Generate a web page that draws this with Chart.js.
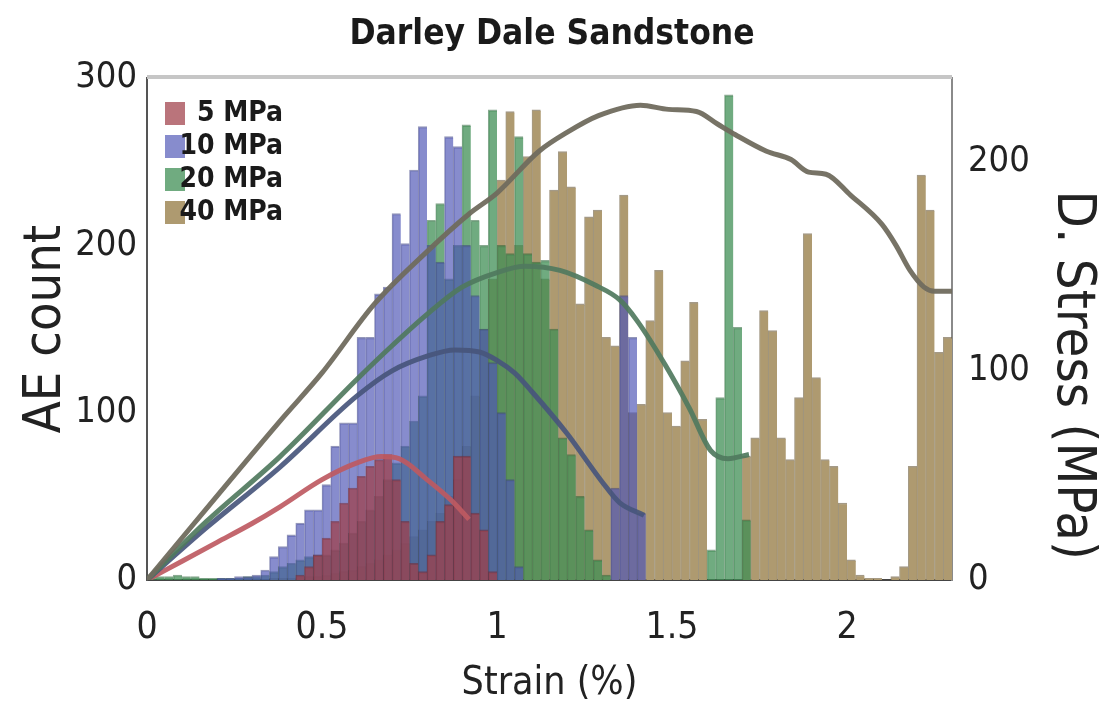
<!DOCTYPE html>
<html><head><meta charset="utf-8">
<script src="https://cdn.jsdelivr.net/npm/chart.js@4.4.1/dist/chart.umd.min.js"></script>
<style>html,body{margin:0;padding:0;background:#fff;}canvas{display:block;}</style>
</head><body>
<canvas id="c" width="1104" height="722"></canvas>
<script>
// ---- data ----
const binWidth = 0.025;            // strain (%) per histogram bin, bins start at 0
const xTicks = [0, 0.5, 1, 1.5, 2];
const yTicks = [0, 100, 200, 300];
const y2Ticks = [0, 100, 200];

// AE counts per bin (92 bins, 0 - 2.3 %)
const ae5 = [
  0,0,0,0,0,0,0,0,0,0,
  0,0,0,0,0,0,0,3,8,15,
  25,35,46,55,62,68,72,75,60,35,
  10,5,15,35,45,74,74,40,30,5,
  0,0,0,0,0,0,0,0,0,0,
  0,0,0,0,0,0,0,0,0,0,
  0,0,0,0,0,0,0,0,0,0,
  0,0,0,0,0,0,0,0,0,0,
  0,0,0,0,0,0,0,0,0,0,
  0,0
];
const ae10 = [
  0,0,0,0,0,0,0,0,1,1,
  2,2,3,6,14,20,27,34,42,42,
  57,80,94,94,145,145,171,175,219,201,
  245,271,200,190,265,259,200,170,150,130,
  100,60,8,0,0,0,0,0,0,0,
  0,0,0,55,170,145,40,0,0,0,
  0,0,0,0,0,0,0,0,0,0,
  0,0,0,0,0,0,0,0,0,0,
  0,0,0,0,0,0,0,0,0,0,
  0,0
];
const ae20 = [
  3,2,2,3,2,2,1,1,1,1,
  1,2,2,3,5,8,10,12,14,15,
  15,18,22,28,35,42,50,60,70,80,
  95,110,215,225,180,200,272,215,200,281,
  200,195,265,195,190,191,150,85,75,50,
  30,12,3,0,0,0,0,0,0,0,
  0,0,0,0,18,109,290,151,36,0,
  0,0,0,0,0,0,0,0,0,0,
  0,0,0,0,0,0,0,0,0,0,
  0,0
];
const ae40 = [
  0,0,0,0,0,0,0,0,0,0,
  0,0,0,0,1,1,1,2,2,2,
  3,4,5,6,8,10,12,15,18,22,
  26,30,35,40,50,60,80,110,150,180,
  239,280,200,253,281,180,233,256,235,165,
  217,221,145,140,230,100,105,155,185,100,
  92,131,166,96,0,0,0,0,74,85,
  161,149,85,72,109,207,121,72,68,46,
  12,3,1,1,0,2,8,68,242,221,
  136,145
];

// Differential stress curves (strain %, MPa)
const stress5X  = [0, 0.1, 0.2, 0.3, 0.38, 0.5, 0.6, 0.67, 0.72, 0.8, 0.87, 0.92];
const stress5Y  = [0, 9, 18, 27, 35, 48, 56, 59, 58, 48, 38, 29];
const stress10X = [0, 0.17, 0.38, 0.6, 0.7, 0.8, 0.88, 0.95, 1.0, 1.05, 1.1, 1.2, 1.3, 1.35, 1.42];
const stress10Y = [0, 25, 54, 88, 100, 107, 110, 109, 105, 99, 90, 70, 47, 37, 31];
const stress20X = [0, 0.17, 0.38, 0.6, 0.7, 0.8, 0.9, 1.0, 1.08, 1.18, 1.28, 1.35, 1.4, 1.48, 1.55, 1.61, 1.66, 1.72];
const stress20Y = [0, 28, 59, 96, 112, 127, 140, 147, 150, 148, 141, 134, 124, 103, 82, 62, 58, 60];
const stress40X = [0, 0.38, 0.5, 0.65, 0.8, 0.92, 1.0, 1.12, 1.2, 1.29, 1.41, 1.49, 1.57, 1.63, 1.68, 1.77, 1.84, 1.89, 1.94, 2.01, 2.1, 2.14, 2.18, 2.22, 2.25, 2.3];
const stress40Y = [0, 76, 99, 132, 157, 175, 185, 205, 214, 222, 227, 225, 224, 218, 213, 205, 201, 195, 194, 184, 170, 160, 148, 140, 138, 138];

const seriesLabels = ['5 MPa', '10 MPa', '20 MPa', '40 MPa'];

// ---- styling ----
const NARROW = "'Liberation Sans Narrow', 'Arial Narrow', 'DejaVu Sans Condensed', sans-serif";
const barFill   = ['rgba(160,62,72,0.72)', 'rgba(78,86,182,0.68)', 'rgba(62,142,84,0.74)', 'rgb(174,154,112)'];
const barEdge   = ['rgba(120,40,50,0.55)', 'rgba(60,65,130,0.55)', 'rgba(40,100,55,0.55)', 'rgba(115,100,70,0.65)'];
const lineColor = ['rgba(190,90,98,0.92)', 'rgba(72,86,124,0.92)', 'rgba(80,122,94,0.92)', 'rgba(112,108,94,0.95)'];

const toBars = arr => arr.map((v, i) => ({x: (i + 0.5) * binWidth, y: v}));
const toLine = (xs, ys) => xs.map((x, i) => ({x, y: ys[i]}));

const hist = [ae5, ae10, ae20, ae40];
const stressX = [stress5X, stress10X, stress20X, stress40X];
const stressY = [stress5Y, stress10Y, stress20Y, stress40Y];

const datasets = [];
stressX.forEach((xs, k) => {
  datasets.push({
    type: 'line', label: seriesLabels[k] + ' stress', data: toLine(xs, stressY[k]),
    yAxisID: 'y2', borderColor: lineColor[k], borderWidth: 5, pointRadius: 0,
    cubicInterpolationMode: 'monotone', fill: false, order: 3 - k
  });
});
hist.forEach((arr, k) => {
  datasets.push({
    type: 'bar', label: seriesLabels[k], data: toBars(arr), yAxisID: 'y',
    backgroundColor: barFill[k], borderColor: barEdge[k],
    borderWidth: {top: 1.5, left: 1, right: 0, bottom: 0}, borderSkipped: 'start',
    grouped: false, barPercentage: 1, categoryPercentage: 1, order: 4 + k
  });
});

const frameAndLegend = {
  id: 'frameAndLegend',
  afterDatasetsDraw(chart) {
    const {ctx, chartArea: a} = chart;
    ctx.save();
    ctx.strokeStyle = '#c6c6c6';
    ctx.lineWidth = 4;
    ctx.beginPath(); ctx.moveTo(a.left, a.top - 1); ctx.lineTo(a.right, a.top - 1); ctx.stroke();
    ctx.font = 'bold 28px ' + NARROW;
    ctx.textAlign = 'right'; ctx.textBaseline = 'middle';
    seriesLabels.forEach((lab, i) => {
      const y0 = a.top + 24 + i * 33;
      ctx.fillStyle = '#fff';
      ctx.fillRect(a.left + 18, y0, 20, 23);
      ctx.fillStyle = barFill[i];
      ctx.fillRect(a.left + 18, y0, 20, 23);
      ctx.fillStyle = '#1a1a1a';
      ctx.fillText(lab, a.left + 136, y0 + 12);
    });
    ctx.restore();
  }
};

Chart.defaults.font.family = NARROW;
Chart.defaults.color = '#222';

new Chart(document.getElementById('c'), {
  type: 'bar',
  data: {datasets},
  plugins: [frameAndLegend],
  options: {
    responsive: false, animation: false, devicePixelRatio: 1,
    layout: {padding: 0},
    plugins: {
      legend: {display: false}, tooltip: {enabled: false},
      title: {display: true, text: 'Darley Dale Sandstone', color: '#1a1a1a',
        font: {size: 35, weight: 'bold', lineHeight: 1.2}, padding: {top: 14, bottom: 22}}
    },
    scales: {
      x: {
        type: 'linear', min: 0, max: 2.3, offset: false,
        grid: {display: false, drawTicks: false, offset: false},
        border: {display: true, color: '#444', width: 2},
        afterBuildTicks: s => { s.ticks = xTicks.map(v => ({value: v})); },
        ticks: {font: {size: 37}, color: '#222', padding: 26, maxRotation: 0, callback: v => String(v)},
        title: {display: true, text: 'Strain (%)', font: {size: 39, lineHeight: 1.0}, color: '#222', padding: {top: 0, bottom: 19}},
        afterFit: s => { s.height = 142; }
      },
      y: {
        position: 'left', min: 0, max: 300,
        grid: {display: false, drawTicks: false},
        border: {display: true, color: '#555', width: 2},
        afterBuildTicks: s => { s.ticks = yTicks.map(v => ({value: v})); },
        ticks: {font: {size: 36}, color: '#222', padding: 10},
        title: {display: true, text: 'AE count', font: {size: 52, lineHeight: 1.0}, color: '#222', padding: {top: 20, bottom: 0}},
        afterFit: s => { s.width = 147; }
      },
      y2: {
        position: 'right', min: 0, max: 240,
        grid: {display: false, drawTicks: false},
        border: {display: true, color: '#8a8a8a', width: 2},
        afterBuildTicks: s => { s.ticks = y2Ticks.map(v => ({value: v})); },
        ticks: {font: {size: 36}, color: '#222', padding: 16},
        title: {display: true, text: '      D. Stress (MPa)', font: {size: 54, lineHeight: 1.0}, color: '#222', padding: {top: 5, bottom: 0}},
        afterFit: s => { s.width = 152; }
      }
    }
  }
});
</script>
</body></html>
